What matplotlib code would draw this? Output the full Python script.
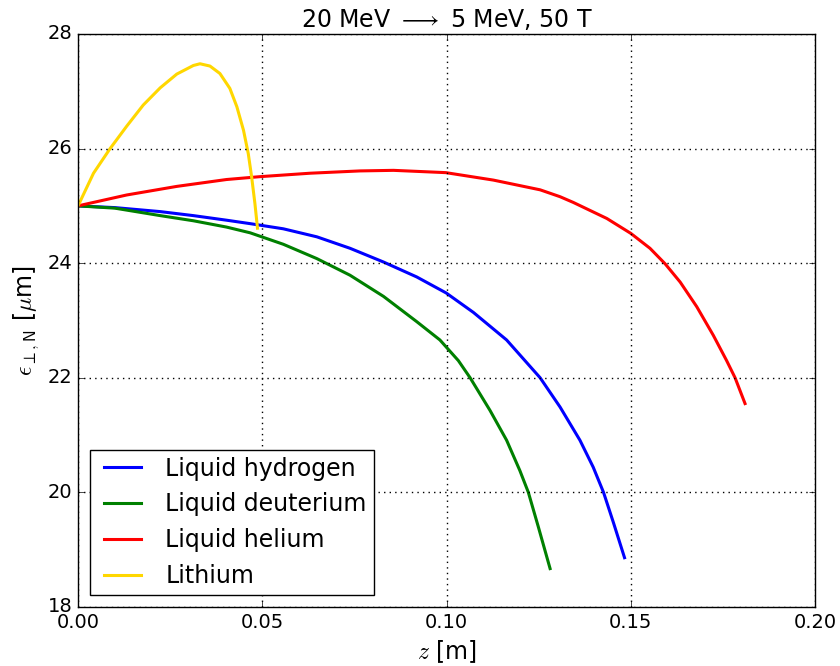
import matplotlib
matplotlib.use("Agg")
import matplotlib.pyplot as plt

plt.style.use("classic")
plt.rcParams["mathtext.fontset"] = "cm"
plt.rcParams["font.family"] = ["DejaVu Sans"]

# Liquid hydrogen
z_h2 = [0.000, 0.010, 0.0223, 0.0313, 0.0403, 0.0467, 0.0557, 0.0648, 0.0738, 0.0829,
        0.0919, 0.0999, 0.1073, 0.1163, 0.1254, 0.1308, 0.1362, 0.1398, 0.1426, 0.1453, 0.1483]
e_h2 = [25.00, 24.97, 24.90, 24.83, 24.75, 24.69, 24.60, 24.46, 24.26, 24.02,
        23.76, 23.48, 23.14, 22.66, 22.00, 21.49, 20.91, 20.44, 20.00, 19.47, 18.86]

# Liquid deuterium
z_d2 = [0.000, 0.010, 0.0223, 0.0313, 0.0403, 0.0467, 0.0557, 0.0648, 0.0738, 0.0829,
        0.0919, 0.0982, 0.1032, 0.1064, 0.1118, 0.1163, 0.1199, 0.1222, 0.1249, 0.1281]
e_d2 = [25.00, 24.96, 24.83, 24.74, 24.63, 24.53, 24.33, 24.08, 23.79, 23.42,
        22.98, 22.66, 22.30, 22.00, 21.43, 20.91, 20.38, 20.00, 19.40, 18.67]

# Liquid helium
z_he = [0.000, 0.0132, 0.0268, 0.0403, 0.0494, 0.0630, 0.0765, 0.0856, 0.0998, 0.1127,
        0.1254, 0.1308, 0.1344, 0.1435, 0.1500, 0.1552, 0.1593, 0.1634, 0.1679, 0.1724,
        0.1760, 0.1783, 0.1810]
e_he = [25.00, 25.19, 25.34, 25.46, 25.51, 25.57, 25.61, 25.62, 25.58, 25.45,
        25.28, 25.16, 25.06, 24.78, 24.52, 24.26, 23.99, 23.67, 23.24, 22.74,
        22.30, 22.00, 21.55]

# Lithium
z_li = [0.000, 0.0042, 0.0087, 0.0132, 0.0177, 0.0223, 0.0268, 0.0313, 0.0331, 0.0358,
        0.0385, 0.0412, 0.0431, 0.0449, 0.0462, 0.0471, 0.0480, 0.0487]
e_li = [25.00, 25.57, 26.00, 26.39, 26.76, 27.06, 27.30, 27.45, 27.48, 27.44,
        27.31, 27.05, 26.73, 26.32, 25.91, 25.51, 25.04, 24.61]

labels = ["Liquid hydrogen", "Liquid deuterium", "Liquid helium", "Lithium"]
colors = ["#0000ff", "#008000", "#ff0000", "#ffd700"]

fig = plt.figure(figsize=(8.4, 6.66), dpi=100, facecolor="white")
ax = fig.add_axes([0.0929, 0.0886, 0.8774, 0.8604])

for zs, es, lab, col in zip([z_h2, z_d2, z_he, z_li], [e_h2, e_d2, e_he, e_li], labels, colors):
    ax.plot(zs, es, color=col, lw=2.2, label=lab, solid_joinstyle="round")

ax.set_xlim(0.0, 0.20)
ax.set_ylim(18, 28)
ax.set_xticks([0.00, 0.05, 0.10, 0.15, 0.20])
ax.set_xticklabels(["0.00", "0.05", "0.10", "0.15", "0.20"])
ax.set_yticks([18, 20, 22, 24, 26, 28])
ax.tick_params(labelsize=14)
ax.grid(True, color="black", linestyle=":", linewidth=1)
ax.set_xlabel(r"$z$ [m]", fontsize=17)
ax.set_ylabel(r"$\epsilon_{\perp,\mathsf{N}}$ [$\mu$m]", fontsize=17)
ax.set_title(r"20 MeV $\longrightarrow$ 5 MeV, 50 T", fontsize=17)

leg = ax.legend(loc="lower left", fontsize=17, fancybox=False, framealpha=1,
                edgecolor="black", handlelength=2.15, handletextpad=0.75,
                borderpad=0.3, labelspacing=0.5)

fig.savefig("out.png", dpi=100, facecolor="white")
